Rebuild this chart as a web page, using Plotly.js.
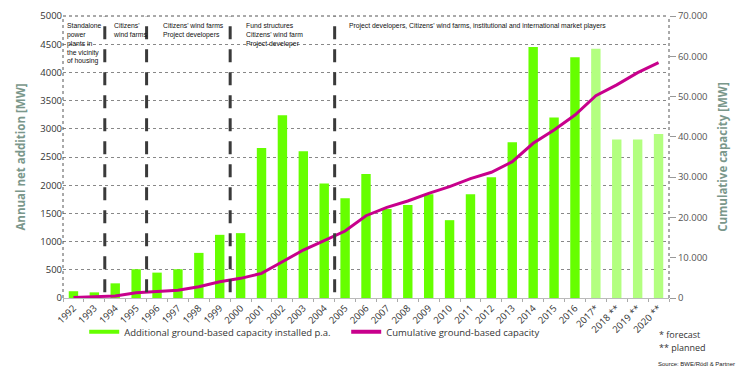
<!DOCTYPE html>
<html>
<head>
<meta charset="utf-8">
<script src="https://cdn.plot.ly/plotly-3.0.1.min.js"></script>
<style>html,body{margin:0;padding:0;background:#fff;}#chart{width:742px;height:375px;}</style>
</head>
<body>
<div id="chart"></div>
<script>
// ---- data ----
const years = ['1992','1993','1994','1995','1996','1997','1998','1999','2000','2001','2002','2003','2004','2005','2006','2007','2008','2009','2010','2011','2012','2013','2014','2015','2016','2017*','2018 **','2019 **','2020 **'];
const annualAddition = [120,100,260,510,450,510,800,1120,1150,2660,3240,2600,2030,1770,2200,1580,1650,1840,1380,1840,2140,2760,4450,3200,4270,4420,2810,2810,2910];
const cumulativeCapacity = [150,300,500,1300,1560,1900,2800,4050,4880,6120,9000,11900,14250,16630,20430,22500,24070,25980,27640,29620,31200,33840,38400,41700,45420,50220,52900,55950,58450];
const firstForecastIndex = 25;
const phaseBoundaries = [1.5, 3.5, 7.5, 12.5];
const phaseLabels = [
  'Standalone<br>power<br>plants in<br>the vicinity<br>of housing',
  'Citizens\'<br>wind farms',
  'Citizens\' wind farms<br>Project developers',
  'Fund structures<br>Citizens\' wind farm<br>Project developer',
  'Project developers, Citizens\' wind farms, institutional and international market players'
];
const legendNames = ['Additional ground-based capacity installed p.a.', 'Cumulative ground-based capacity'];

// ---- styles ----
const GREEN = '#66ff00', LIGHTGREEN = '#b3ff80', MAGENTA = '#c8008c';
const barColors = years.map((_, i) => i >= firstForecastIndex ? LIGHTGREEN : GREEN);
const FONT = 'Open Sans, Noto Sans, sans-serif';
const SMALL = 'Liberation Sans, Arial, sans-serif';

const traces = [
  {type:'bar', x:years, y:annualAddition, marker:{color:barColors, line:{width:0}}, showlegend:false, yaxis:'y', hoverinfo:'x+y'},
  {type:'scatter', mode:'lines', x:years, y:cumulativeCapacity, yaxis:'y2', line:{color:MAGENTA, width:3}, showlegend:false},
  {type:'scatter', mode:'lines', x:[null], y:[null], name:legendNames[0], line:{color:GREEN, width:4}},
  {type:'scatter', mode:'lines', x:[null], y:[null], name:legendNames[1], line:{color:MAGENTA, width:4}}
];

const shapes = [];
// dotted frame (top, left, right)
shapes.push({type:'line', xref:'paper', yref:'paper', x0:0, x1:1, y0:1, y1:1, line:{color:'#555', width:1, dash:'dot'}});
shapes.push({type:'line', xref:'paper', yref:'paper', x0:0, x1:0, y0:0, y1:1, line:{color:'#555', width:1, dash:'dot'}});
shapes.push({type:'line', xref:'paper', yref:'paper', x0:1, x1:1, y0:0, y1:1, line:{color:'#555', width:1, dash:'dot'}});
phaseBoundaries.forEach(b => {
  shapes.push({type:'line', xref:'x', yref:'paper', x0:b, x1:b, y0:0.02, y1:1, line:{color:'#3a3a3a', width:3, dash:'13px,10px'}});
});

const labelX = [-0.42, 1.78, 4.18, 8.15, 13.1];
const annotations = phaseLabels.map((t, i) => ({
  xref:'x', yref:'paper', x:labelX[i], y:0.985, xanchor:'left', yanchor:'top', align:'left',
  text:t, showarrow:false, font:{family:SMALL, size:6.8, color:'#111'}
}));
annotations.push({xref:'paper', yref:'paper', x:0.98, y:-0.13, xanchor:'left', yanchor:'middle', text:'* forecast', showarrow:false, font:{family:FONT, size:9, color:'#333'}});
annotations.push({xref:'paper', yref:'paper', x:0.98, y:-0.175, xanchor:'left', yanchor:'middle', text:'** planned', showarrow:false, font:{family:FONT, size:9, color:'#333'}});
annotations.push({xref:'paper', yref:'paper', x:0.978, y:-0.235, xanchor:'left', yanchor:'middle', text:'Source: BWE/Rödl &amp; Partner', showarrow:false, font:{family:SMALL, size:6, color:'#222'}});

const layout = {
  width:742, height:375,
  margin:{l:63, r:73, t:16, b:77},
  paper_bgcolor:'#fff', plot_bgcolor:'#fff',
  separators:',.',
  font:{family:FONT, size:9.5, color:'#333'},
  bargap:0.55,
  xaxis:{type:'category', tickangle:-45, tickfont:{size:9.5, color:'#333'}, showgrid:false, showline:true, linecolor:'#bbb', ticks:'outside', ticklen:3, tickcolor:'#aaa', tickson:'boundaries', range:[-0.5, 28.5]},
  yaxis:{range:[0,5000], dtick:500, tickformat:'d', showgrid:true, gridcolor:'#888', griddash:'dot', gridwidth:1, zeroline:false, showline:false, ticks:'', tickfont:{size:9.5, color:'#333'},
    title:{text:'Annual net addition [MW]', font:{family:FONT, size:11.5, color:'#7a978b', weight:'bold'}, standoff:12}},
  yaxis2:{overlaying:'y', side:'right', range:[0,70000], dtick:10000, tickformat:',d', showgrid:false, zeroline:false, showline:false, ticks:'outside', ticklen:6, tickcolor:'#999', tickfont:{size:9.5, color:'#555'},
    title:{text:'Cumulative capacity [MW]', font:{family:FONT, size:11.5, color:'#7a978b', weight:'bold'}, standoff:12}},
  legend:{orientation:'h', x:0.035, y:-0.12, xanchor:'left', yanchor:'middle', font:{family:FONT, size:9.5, color:'#333'}, entrywidth:217, entrywidthmode:'pixels', bgcolor:'rgba(0,0,0,0)', traceorder:'normal', itemwidth:30},
  shapes:shapes,
  annotations:annotations
};

Plotly.newPlot('chart', traces, layout, {displayModeBar:false, staticPlot:true});
</script>
</body>
</html>
